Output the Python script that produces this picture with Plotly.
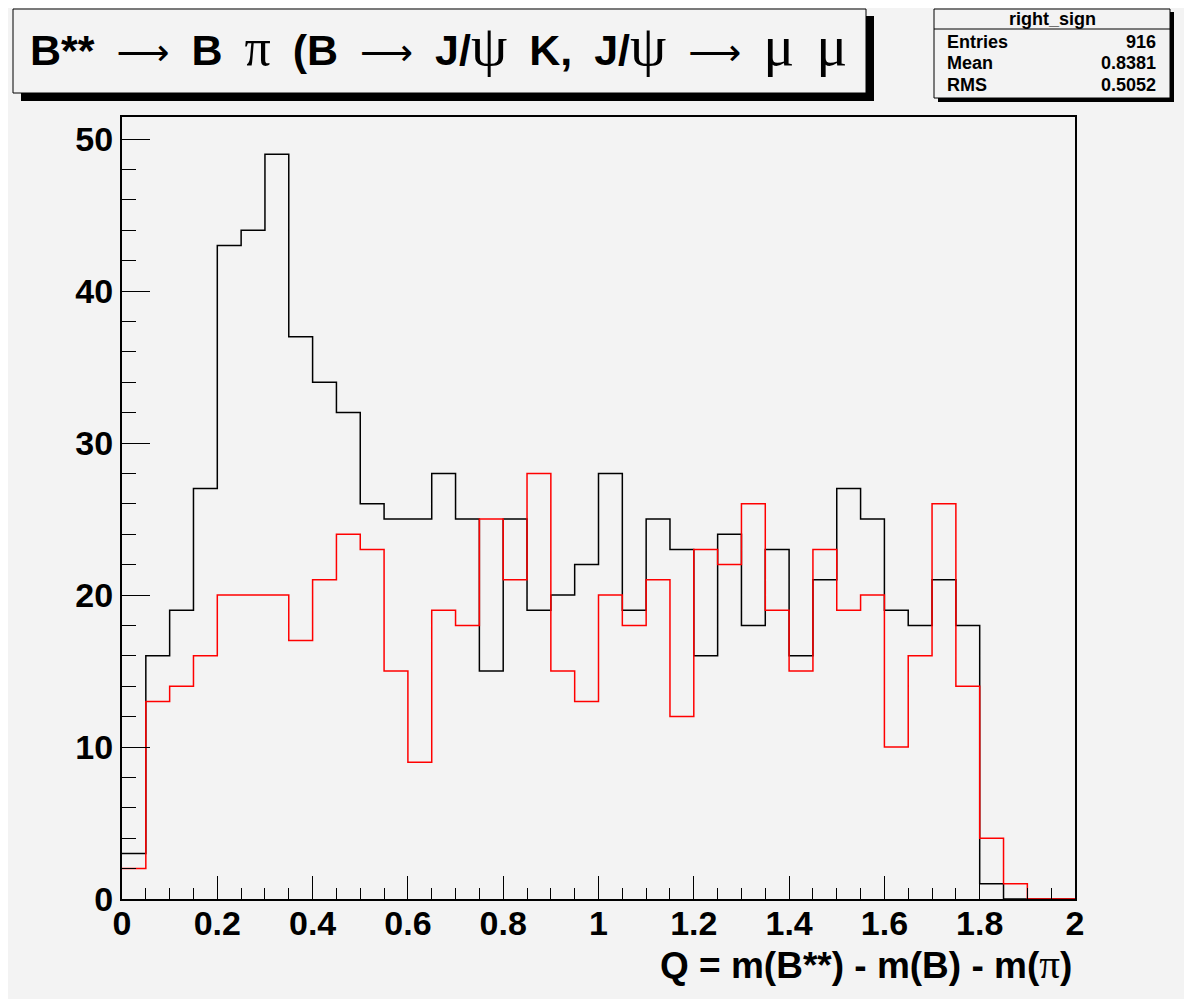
import plotly.graph_objects as go

# ---- data ----
bin_edges = [round(i * 0.05, 2) for i in range(41)]
right_sign = [3, 16, 19, 27, 43, 44, 49, 37, 34, 32,
              26, 25, 25, 28, 25, 15, 25, 19, 20, 22,
              28, 19, 25, 23, 16, 24, 18, 23, 16, 21,
              27, 25, 19, 18, 21, 18, 1, 0, 0, 0]
wrong_sign = [2, 13, 14, 16, 20, 20, 20, 17, 21, 24,
              23, 15, 9, 19, 18, 25, 21, 28, 15, 13,
              20, 18, 21, 12, 23, 22, 26, 19, 15, 23,
              19, 20, 10, 16, 26, 14, 4, 1, 0, 0]
x_ticks = [0, 0.2, 0.4, 0.6, 0.8, 1, 1.2, 1.4, 1.6, 1.8, 2]
x_tick_labels = ["0", "0.2", "0.4", "0.6", "0.8", "1", "1.2", "1.4", "1.6", "1.8", "2"]
y_ticks = [0, 10, 20, 30, 40, 50]
stats_labels = ["Entries", "Mean", "RMS"]
stats_values = ["916", "0.8381", "0.5052"]

# page has an 8px body margin; figure coordinates = reference pixels - 8
OFF = 8
W, H = 1176, 991
L, R, T, B = 122, 1075, 117, 899  # plot frame in reference pixels
BG = "#f3f3f3"


def px(x):
    return (x - L) / (R - L)


def py(y):
    return (B - y) / (B - T)


fig = go.Figure()
fig.add_trace(go.Scatter(x=bin_edges, y=right_sign + [right_sign[-1]], mode="lines",
                         line=dict(color="black", width=1.5, shape="hv"),
                         showlegend=False, hoverinfo="skip"))
fig.add_trace(go.Scatter(x=bin_edges, y=wrong_sign + [wrong_sign[-1]], mode="lines",
                         line=dict(color="#ff0000", width=1.5, shape="hv"),
                         showlegend=False, hoverinfo="skip"))

axis_font = dict(family="Liberation Sans", size=34, color="black", weight="bold")

fig.update_xaxes(range=[0, 2], tickvals=x_ticks, ticktext=x_tick_labels,
                 ticks="inside", ticklen=23, tickwidth=1, tickcolor="black",
                 minor=dict(ticks="inside", ticklen=11, dtick=0.05, tick0=0,
                            tickwidth=1, tickcolor="black"),
                 showline=True, linecolor="black", linewidth=2, mirror=True,
                 showgrid=False, zeroline=False, tickfont=axis_font,
                 ticklabelstandoff=-7)
fig.update_yaxes(range=[0, 51.45], tickvals=y_ticks,
                 ticks="inside", ticklen=28, tickwidth=1, tickcolor="black",
                 minor=dict(ticks="inside", ticklen=14, dtick=2, tick0=0,
                            tickwidth=1, tickcolor="black"),
                 showline=True, linecolor="black", linewidth=2, mirror=True,
                 showgrid=False, zeroline=False, tickfont=axis_font,
                 ticklabelstandoff=0)

shapes = []
annotations = []

# title box with shadow
shapes.append(dict(type="rect", xref="paper", yref="paper",
                   x0=px(21), x1=px(874), y0=py(101), y1=py(16),
                   fillcolor="black", line=dict(width=0), layer="above"))
shapes.append(dict(type="rect", xref="paper", yref="paper",
                   x0=px(13), x1=px(866), y0=py(93), y1=py(9),
                   fillcolor=BG, line=dict(color="black", width=1), layer="above"))

GREEK_SIZE = 58


def gr(ch, size=GREEK_SIZE):
    return (f"<span style=\"font-family:'Liberation Serif';font-weight:normal;"
            f"font-size:{size}px\">{ch}</span>")


ARW = ("<span style=\"font-family:'DejaVu Sans';font-weight:normal;"
       "font-size:37px\">\u27f6</span>")
SP = "<span style=\"word-spacing:10px\"> </span>"
pieces = ["B**", ARW, "B", gr("\u03c0", 52), "(B", ARW, "J/" + gr("\u03c8"), "K,",
          "J/" + gr("\u03c8"), ARW, gr("\u03bc"), gr("\u03bc")]
title_txt = SP.join(pieces)
BASELINE = 65
ytop = BASELINE - 0.891 * GREEK_SIZE
annotations.append(dict(text=title_txt, xref="paper", yref="paper",
                        x=px(30), y=py(ytop), xanchor="left", yanchor="top",
                        showarrow=False, borderpad=0, borderwidth=0,
                        font=dict(family="Liberation Sans", size=43, color="black",
                                  weight="bold")))

# stats box
shapes.append(dict(type="rect", xref="paper", yref="paper",
                   x0=px(938), x1=px(1174), y0=py(102), y1=py(12),
                   fillcolor="black", line=dict(width=0), layer="above"))
shapes.append(dict(type="rect", xref="paper", yref="paper",
                   x0=px(934), x1=px(1170), y0=py(98), y1=py(9),
                   fillcolor=BG, line=dict(color="black", width=1), layer="above"))
shapes.append(dict(type="line", xref="paper", yref="paper",
                   x0=px(934), x1=px(1170), y0=py(29), y1=py(29),
                   line=dict(color="black", width=1), layer="above"))
stat_font = dict(family="Liberation Sans", size=18, color="black", weight="bold")
annotations.append(dict(text="right_sign", xref="paper", yref="paper",
                        x=px(1052), y=py(19), xanchor="center", yanchor="middle",
                        showarrow=False, font=stat_font))
for i, (lab, val) in enumerate(zip(stats_labels, stats_values)):
    yy = py(42 + i * 21.5)
    annotations.append(dict(text=lab, xref="paper", yref="paper", x=px(945), y=yy,
                            xanchor="left", yanchor="middle", showarrow=False, font=stat_font))
    annotations.append(dict(text=val, xref="paper", yref="paper", x=px(1158), y=yy,
                            xanchor="right", yanchor="middle", showarrow=False, font=stat_font))

# x axis title (right aligned, ROOT style)
annotations.append(dict(
    text="Q = m(B**) - m(B) - m(" + gr("\u03c0", 41) + ")",
    xref="paper", yref="paper", x=px(1074), y=py(964),
    xanchor="right", yanchor="middle", showarrow=False,
    font=dict(family="Liberation Sans", size=37, color="black", weight="bold")))

fig.update_layout(width=W, height=H, autosize=False,
                  margin=dict(l=L - OFF, r=W - (R - OFF), t=T - OFF, b=H - (B - OFF), pad=0),
                  paper_bgcolor=BG, plot_bgcolor=BG,
                  shapes=shapes, annotations=annotations, showlegend=False)

fig.write_html("out.html")
